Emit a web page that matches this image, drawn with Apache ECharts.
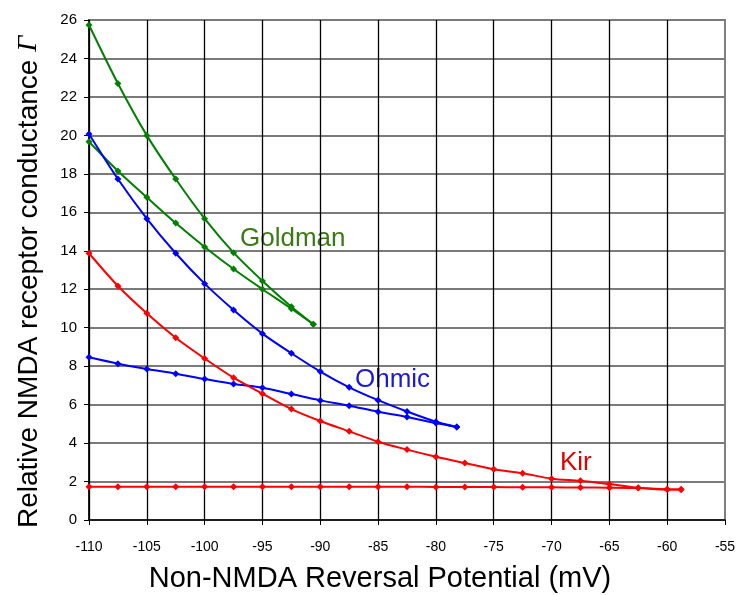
<!DOCTYPE html>
<html>
<head>
<meta charset="utf-8">
<script src="https://cdn.jsdelivr.net/npm/echarts@6/dist/echarts.min.js"></script>
<style>
html, body { margin: 0; padding: 0; background: #fff; }
#chart { width: 738px; height: 595px; }
</style>
</head>
<body>
<div id="chart"></div>
<script>
// x positions (mV)
var goldmanX = [-110, -107.5, -105, -102.5, -100, -97.5, -95, -92.5, -90.6];
var goldmanUpper = [25.74, 22.7, 20.0, 17.73, 15.67, 13.9, 12.43, 11.09, 10.18];
var goldmanLower = [19.67, 18.15, 16.78, 15.44, 14.2, 13.05, 12.0, 10.99, 10.18];

var ohmicX = [-110, -107.5, -105, -102.5, -100, -97.5, -95, -92.5, -90, -87.5, -85, -82.5, -80, -78.2];
var ohmicUpper = [20.07, 17.73, 15.67, 13.87, 12.29, 10.92, 9.69, 8.67, 7.72, 6.9, 6.23, 5.64, 5.11, 4.84];
var ohmicLower = [8.46, 8.13, 7.85, 7.61, 7.33, 7.07, 6.88, 6.55, 6.22, 5.94, 5.63, 5.36, 5.04, 4.84];

var kirX = [-110, -107.5, -105, -102.5, -100, -97.5, -95, -92.5, -90, -87.5, -85, -82.5, -80, -77.5, -75, -72.5, -70, -67.5, -65, -62.5, -60, -58.8];
var kirUpper = [13.87, 12.17, 10.75, 9.48, 8.4, 7.4, 6.57, 5.77, 5.15, 4.61, 4.07, 3.66, 3.29, 2.96, 2.64, 2.43, 2.15, 2.04, 1.87, 1.68, 1.58, 1.58];
var kirLower = [1.73, 1.73, 1.73, 1.73, 1.73, 1.73, 1.73, 1.73, 1.73, 1.73, 1.73, 1.73, 1.72, 1.72, 1.71, 1.7, 1.7, 1.69, 1.68, 1.66, 1.6, 1.58];

function pairs(xs, ys) {
	var out = [];
	for (var i = 0; i < xs.length; i++) out.push([xs[i], ys[i]]);
	return out;
}

function line(data, color) {
	return {
		type: 'line',
		data: data,
		smooth: 0.3,
		symbol: 'diamond',
		symbolSize: 7,
		lineStyle: { color: color, width: 2 },
		itemStyle: { color: color },
		z: 3
	};
}

var myChart = echarts.init(document.getElementById('chart'));
var option = {
	animation: false,
	textStyle: { fontFamily: 'Liberation Sans, Arial, sans-serif' },
	grid: {
		left: 89, right: 13, top: 20, bottom: 75,
		outerBoundsMode: 'none',
		show: true, borderColor: '#808080', borderWidth: 2
	},
	xAxis: {
		type: 'value',
		min: -110, max: -55, interval: 5,
		name: 'Non-NMDA Reversal Potential (mV)',
		nameLocation: 'middle',
		nameGap: 44,
		nameTextStyle: { fontSize: 29, color: '#000', padding: [0, 54, 0, 0] },
		axisLine: { onZero: false, lineStyle: { color: '#000', width: 1.5 } },
		axisTick: { show: true, length: 5, lineStyle: { color: '#000' } },
		axisLabel: { color: '#000', fontSize: 14, margin: 20 },
		splitLine: { show: true, showMaxLine: false, lineStyle: { color: '#000', width: 1.3 } }
	},
	yAxis: {
		type: 'value',
		min: 0, max: 26, interval: 2,
		name: 'Relative NMDA receptor conductance {i|Γ}',
		nameLocation: 'middle',
		nameGap: 46,
		nameTextStyle: {
			fontSize: 28, color: '#000',
			padding: [0, 24, 0, 0],
			rich: { i: { fontSize: 28, fontStyle: 'italic', fontFamily: 'Liberation Serif, serif', color: '#000' } }
		},
		axisLine: { show: true, lineStyle: { color: '#000', width: 1.5 } },
		axisTick: { show: true, length: 5, lineStyle: { color: '#000' } },
		axisLabel: { color: '#000', fontSize: 15, margin: 12 },
		splitLine: { show: true, lineStyle: { color: '#7a7a7a', width: 2 } }
	},
	series: [
		line(pairs(goldmanX, goldmanUpper), '#008000'),
		line(pairs(goldmanX, goldmanLower), '#008000'),
		line(pairs(ohmicX, ohmicUpper), '#0000ff'),
		line(pairs(ohmicX, ohmicLower), '#0000ff'),
		line(pairs(kirX, kirUpper), '#ff0000'),
		line(pairs(kirX, kirLower), '#ff0000')
	],
	graphic: [
		{ type: 'text', left: 240, top: 226, style: { text: 'Goldman', fontSize: 26, fill: '#3a7a12', fontFamily: 'Liberation Sans, Arial, sans-serif' } },
		{ type: 'text', left: 355, top: 367, style: { text: 'Ohmic', fontSize: 26, fill: '#1a1ad0', fontFamily: 'Liberation Sans, Arial, sans-serif' } },
		{ type: 'text', left: 560, top: 450, style: { text: 'Kir', fontSize: 26, fill: '#e00000', fontFamily: 'Liberation Sans, Arial, sans-serif' } }
	]
};
myChart.setOption(option);
</script>
</body>
</html>
